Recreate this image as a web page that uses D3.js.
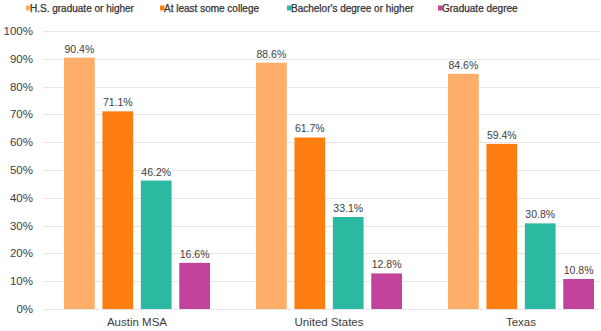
<!DOCTYPE html>
<html lang="en">
<head>
<meta charset="UTF-8">
<title>Educational attainment</title>
<style>
  body { margin: 0; background: #fff; }
  svg text { font-family: "Liberation Sans", Arial, sans-serif; fill: #404040; }
  .grid line { stroke: #e6e6e6; stroke-width: 1; }
  .legend text { font-size: 10px; fill: #333; stroke: #333; stroke-width: 0.25px; }
</style>
</head>
<body>
<script src="https://d3js.org/d3.v7.min.js"></script>
<script>
// groups, series and values (percent)
const regions = ["Austin MSA", "United States", "Texas"];
const series = ["H.S. graduate or higher", "At least some college", "Bachelor's degree or higher", "Graduate degree"];
const colors = ["#fdad6a", "#fe7f10", "#2bb9a1", "#c2439c"];
const values = [
  [90.4, 71.1, 46.2, 16.6],
  [88.6, 61.7, 33.1, 12.8],
  [84.6, 59.4, 30.8, 10.8]
];
const yTicks = [0, 10, 20, 30, 40, 50, 60, 70, 80, 90, 100];

const width = 601, height = 331;

const svg = d3.select("body").append("svg")
    .attr("width", width)
    .attr("height", height);

const y = d3.scaleLinear().domain([0, 100]).range([309, 31]);
const x0 = d3.scaleBand().domain(regions).range([41, 617]);
const x1 = d3.scaleBand().domain(series).range([23, 169]).paddingInner(0.2);

// horizontal gridlines
svg.append("g").attr("class", "grid")
  .selectAll("line")
  .data(yTicks)
  .join("line")
    .attr("x1", 43).attr("x2", 600)
    .attr("y1", d => Math.round(y(d)) + 0.5)
    .attr("y2", d => Math.round(y(d)) + 0.5);

// y axis labels
svg.append("g")
  .selectAll("text")
  .data(yTicks)
  .join("text")
    .attr("x", 33)
    .attr("y", d => y(d))
    .attr("dy", "0.35em")
    .attr("text-anchor", "end")
    .style("font-size", "11.5px")
    .text(d => d + "%");

// bars
const group = svg.append("g")
  .selectAll("g")
  .data(regions)
  .join("g")
    .attr("transform", d => `translate(${x0(d)},0)`);

group.selectAll("rect")
  .data((d, i) => values[i].map((v, j) => ({ key: series[j], value: v, color: colors[j] })))
  .join("rect")
    .attr("x", d => x1(d.key))
    .attr("width", x1.bandwidth())
    .attr("y", d => y(d.value))
    .attr("height", d => y(0) - y(d.value))
    .attr("fill", d => d.color);

group.selectAll("text.val")
  .data((d, i) => values[i].map((v, j) => ({ key: series[j], value: v })))
  .join("text")
    .attr("class", "val")
    .attr("x", d => x1(d.key) + x1.bandwidth() / 2)
    .attr("y", d => y(d.value) - 5)
    .attr("text-anchor", "middle")
    .style("font-size", "10.5px")
    .text(d => d.value.toFixed(1) + "%");

// category labels
group.append("text")
    .attr("x", (x1.range()[0] + x1.range()[1]) / 2)
    .attr("y", 326)
    .attr("text-anchor", "middle")
    .style("font-size", "11.5px")
    .text(d => d);

// legend
const legendX = [26, 160, 287, 438];
const legend = svg.append("g").attr("class", "legend")
  .selectAll("g")
  .data(series)
  .join("g")
    .attr("transform", (d, i) => `translate(${legendX[i]},8)`);

legend.append("rect")
    .attr("x", 0).attr("y", -2.5)
    .attr("width", 4.5).attr("height", 5)
    .attr("fill", (d, i) => colors[i]);

legend.append("text")
    .attr("x", 4)
    .attr("dy", "0.35em")
    .text(d => d);
</script>
</body>
</html>
